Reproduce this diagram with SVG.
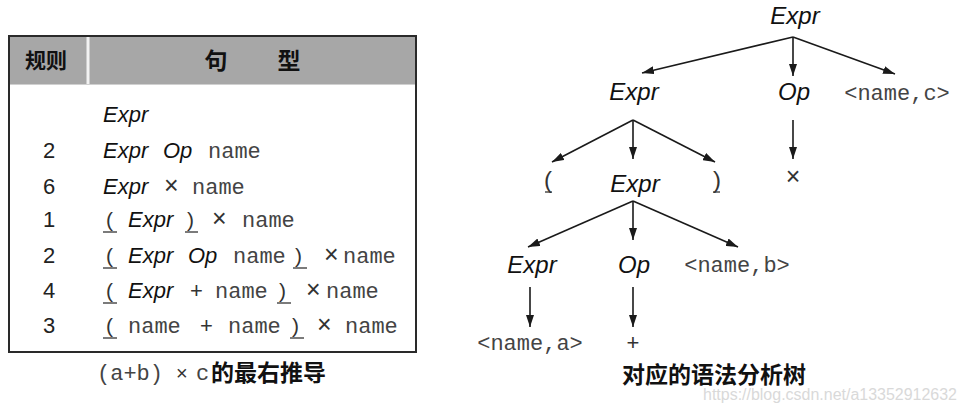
<svg xmlns="http://www.w3.org/2000/svg" width="965" height="412" viewBox="0 0 965 412">
<style>
.it{font-family:"Liberation Sans",Arial,sans-serif;font-style:italic;fill:#111}
.mono{font-family:"Liberation Mono","DejaVu Sans Mono",monospace;fill:#444}
.num{font-family:"Liberation Sans",Arial,sans-serif;fill:#222;font-size:22px}
.sym{font-family:"Liberation Sans",Arial,sans-serif;fill:#333}
.x{font-family:"Liberation Sans",Arial,sans-serif;fill:#333;font-size:25px}
.cjk{font-family:"Noto Sans CJK SC",sans-serif;font-weight:bold;fill:#111}
.edge{stroke:#1a1a1a;stroke-width:1.6;fill:none;marker-end:url(#ah)}
.ul{stroke:#333;stroke-width:1.3}
.t21{font-size:22px}
.m22{font-size:22px}
.tr{font-size:24px}
.tm{font-size:22px}
</style>
<defs>
<marker id="ah" viewBox="0 0 12 8" refX="12" refY="4" markerWidth="12" markerHeight="8" markerUnits="userSpaceOnUse" orient="auto">
<path d="M0,0 L12,4 L0,8 Z" fill="#1a1a1a"/>
</marker>
</defs>
<rect width="965" height="412" fill="#fff"/>

<g id="table">
<rect x="9" y="37" width="407" height="47" fill="#a7a7a7"/>
<rect x="86.5" y="37" width="3" height="47" fill="#f2f2f2"/>
<line x1="9" y1="84.5" x2="416" y2="84.5" stroke="#d0d0d0" stroke-width="1"/>
<path d="M9,36 H416 V352 H9 Z" fill="none" stroke="#2a2a2a" stroke-width="2"/>
<text class="cjk" x="46" y="68" font-size="21" text-anchor="middle" fill="#222">规则</text>
<text class="cjk" x="216" y="69" font-size="23" text-anchor="middle" fill="#222">句</text>
<text class="cjk" x="289" y="69" font-size="23" text-anchor="middle" fill="#222">型</text>

<text class="it t21" x="103" y="122">Expr</text>

<text class="num" x="43" y="158">2</text>
<text class="it t21" x="103" y="158">Expr</text>
<text class="it t21" x="163" y="158">Op</text>
<text class="mono m22" x="208" y="158">name</text>

<text class="num" x="43" y="194">6</text>
<text class="it t21" x="103" y="194">Expr</text>
<text class="x" x="164" y="194">×</text>
<text class="mono m22" x="192" y="194">name</text>

<text class="num" x="43" y="227">1</text>
<text class="sym" x="106" y="227" font-size="21">(</text>
<line class="ul" x1="103" y1="232" x2="117" y2="232"/>
<text class="it t21" x="128" y="227">Expr</text>
<text class="sym" x="187" y="227" font-size="21">)</text>
<line class="ul" x1="185" y1="232" x2="198" y2="232"/>
<text class="x" x="212" y="227">×</text>
<text class="mono m22" x="242" y="227">name</text>

<text class="num" x="43" y="263">2</text>
<text class="sym" x="106" y="263" font-size="21">(</text>
<line class="ul" x1="103" y1="268" x2="117" y2="268"/>
<text class="it t21" x="128" y="263">Expr</text>
<text class="it t21" x="188" y="263">Op</text>
<text class="mono m22" x="233" y="263">name</text>
<text class="sym" x="295" y="263" font-size="21">)</text>
<line class="ul" x1="293" y1="268" x2="307" y2="268"/>
<text class="x" x="324" y="263">×</text>
<text class="mono m22" x="343" y="263">name</text>

<text class="num" x="43" y="298">4</text>
<text class="sym" x="106" y="298" font-size="21">(</text>
<line class="ul" x1="103" y1="303" x2="117" y2="303"/>
<text class="it t21" x="128" y="298">Expr</text>
<text class="sym" x="190" y="298" font-size="22">+</text>
<text class="mono m22" x="215" y="298">name</text>
<text class="sym" x="279" y="298" font-size="21">)</text>
<line class="ul" x1="277" y1="303" x2="291" y2="303"/>
<text class="x" x="306" y="298">×</text>
<text class="mono m22" x="326" y="298">name</text>

<text class="num" x="43" y="333">3</text>
<text class="sym" x="106" y="333" font-size="21">(</text>
<line class="ul" x1="103" y1="338" x2="117" y2="338"/>
<text class="mono m22" x="128" y="333">name</text>
<text class="sym" x="200" y="333" font-size="22">+</text>
<text class="mono m22" x="228" y="333">name</text>
<text class="sym" x="292" y="333" font-size="21">)</text>
<line class="ul" x1="290" y1="338" x2="304" y2="338"/>
<text class="x" x="317" y="333">×</text>
<text class="mono m22" x="345" y="333">name</text>
</g>

<g id="caption-left">
<text class="mono" x="97" y="380" font-size="22">(a+b)</text>
<text class="sym" x="176" y="380" font-size="20" fill="#444">×</text>
<text class="mono" x="196" y="380" font-size="22">c</text>
<text class="cjk" x="211" y="381" font-size="23">的最右推导</text>
</g>

<g id="connectors">
<line class="edge" x1="793" y1="37" x2="642" y2="73"/>
<line class="edge" x1="793" y1="37" x2="793" y2="76"/>
<line class="edge" x1="793" y1="37" x2="895" y2="74"/>
<line class="edge" x1="633" y1="120" x2="552" y2="162"/>
<line class="edge" x1="633" y1="120" x2="633" y2="159"/>
<line class="edge" x1="633" y1="120" x2="715" y2="162"/>
<line class="edge" x1="793" y1="120" x2="793" y2="159"/>
<line class="edge" x1="633" y1="201" x2="528" y2="247"/>
<line class="edge" x1="633" y1="201" x2="633" y2="240"/>
<line class="edge" x1="633" y1="201" x2="738" y2="247"/>
<line class="edge" x1="530" y1="287" x2="530" y2="327"/>
<line class="edge" x1="633" y1="287" x2="633" y2="327"/>
</g>

<g id="n-root"><text class="it tr" x="795" y="24" text-anchor="middle">Expr</text></g>
<g id="n-expr1"><text class="it tr" x="634" y="100" text-anchor="middle">Expr</text></g>
<g id="n-op1"><text class="it tr" x="794" y="100" text-anchor="middle">Op</text></g>
<g id="n-namec"><text class="mono tm" x="897" y="100" text-anchor="middle">&lt;name,c&gt;</text></g>
<g id="n-times"><text class="x" x="793" y="185" text-anchor="middle" fill="#444">×</text></g>
<g id="n-lparen"><text class="sym" x="548" y="188" font-size="24" text-anchor="middle" fill="#222">(</text><line class="ul" x1="545" y1="192" x2="552" y2="192"/></g>
<g id="n-expr2"><text class="it tr" x="635" y="192" text-anchor="middle">Expr</text></g>
<g id="n-rparen"><text class="sym" x="717" y="188" font-size="24" text-anchor="middle" fill="#222">)</text><line class="ul" x1="713" y1="192" x2="720" y2="192"/></g>
<g id="n-expr3"><text class="it tr" x="532" y="273" text-anchor="middle">Expr</text></g>
<g id="n-op2"><text class="it tr" x="634" y="273" text-anchor="middle">Op</text></g>
<g id="n-nameb"><text class="mono tm" x="737" y="272" text-anchor="middle">&lt;name,b&gt;</text></g>
<g id="n-namea"><text class="mono tm" x="530" y="350" text-anchor="middle">&lt;name,a&gt;</text></g>
<g id="n-plus"><text class="sym" x="633" y="350" font-size="22" text-anchor="middle" fill="#444">+</text></g>

<g id="caption-right">
<text class="cjk" x="714" y="383" font-size="23" text-anchor="middle">对应的语法分析树</text>
</g>
<text x="703" y="400" font-family="Liberation Sans,Arial,sans-serif" font-size="16" fill="#d9d9d9" textLength="254" lengthAdjust="spacingAndGlyphs">https://blog.csdn.net/a13352912632</text>
</svg>
